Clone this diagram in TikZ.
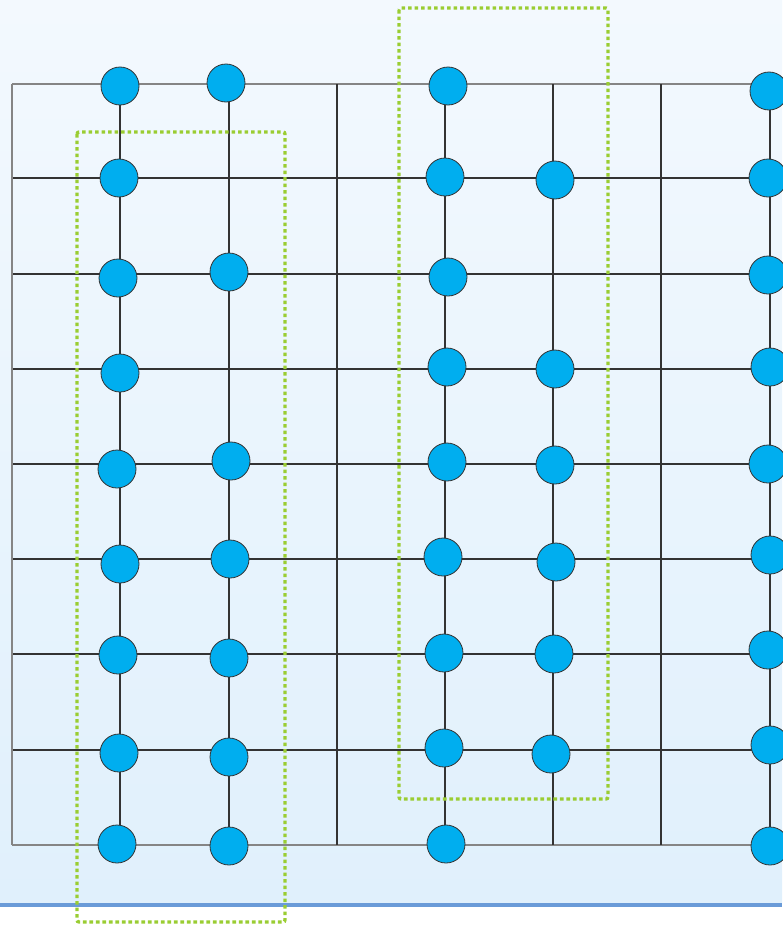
\documentclass[tikz,border=0pt]{standalone}
\usepackage{tikz}
\usetikzlibrary{positioning}
\usepackage{xcolor}
\definecolor{qubitblue}{HTML}{00AEEF}
\definecolor{groupgreen}{HTML}{9ACD32}
\definecolor{bandblue}{HTML}{6A9BD8}
\definecolor{gridline}{HTML}{333333}
\definecolor{gridedge}{HTML}{858585}
\definecolor{skytop}{HTML}{F3F9FE}
\definecolor{skybottom}{HTML}{E0F0FC}

\begin{document}
\begin{tikzpicture}[x=1pt, y=-1pt,
  qb/.style={circle, draw=gridline, line width=0.8pt, fill=qubitblue, minimum size=38pt, inner sep=0pt},
  gline/.style={draw=gridline, line width=1.1pt},
  eline/.style={draw=gridedge, line width=1.1pt},
  grp/.style={draw=groupgreen, line width=3.3pt, dash pattern=on 3.6pt off 2.9pt, rounded corners=2pt}]
  \useasboundingbox (0,0) rectangle (782,926);
  \shade[top color=skytop, bottom color=skybottom] (0,0) rectangle (782,902);
  \draw[bandblue, line width=4pt] (0,905) -- (782,905);
  % grid rows
  \foreach \y [count=\i] in {84,178,274,369,464,559,654,750,845} {
    \coordinate (hl\i) at (12,\y);
    \coordinate (hr\i) at (782,\y);
  }
  \foreach \i in {2,...,8}
    \draw[gline] (hl\i) -- (hr\i);
  \draw[eline] (hl1) -- (hr1);
  \draw[eline] (hl9) -- (hr9);
  \draw[eline] (hl1) -- (hl9);
  % grid columns
  \foreach \x/\lab in {120/a,229/b,337/m,445/c,553/d,661/r,770/e} {
    \coordinate (vt\lab) at (\x,84);
    \coordinate (vb\lab) at (\x,845);
    \draw[gline] (vt\lab) -- (vb\lab);
  }
  % groups
  \draw[grp] (77,132) rectangle (285,922);
  \draw[grp] (399,8) rectangle (608,799);
  % qubits
  \foreach \x/\y/\lab in {120/86/a1,119/178/a2,118/278/a3,120/373/a4,117/469/a5,120/564/a6,118/655/a7,119/753/a8,117/844/a9,
      226/83/b1,229/272/b2,231/461/b3,230/559/b4,229/658/b5,229/757/b6,229/846/b7,
      448/86/c1,445/177/c2,448/277/c3,447/367/c4,447/462/c5,443/557/c6,444/653/c7,444/748/c8,446/844/c9,
      555/180/d1,555/369/d2,555/465/d3,556/562/d4,554/654/d5,551/754/d6,
      769/91/e1,768/178/e2,768/275/e3,770/367/e4,768/464/e5,770/555/e6,768/650/e7,770/745/e8,770/846/e9}
    \node[qb] (q\lab) at (\x,\y) {};
\end{tikzpicture}
\end{document}
